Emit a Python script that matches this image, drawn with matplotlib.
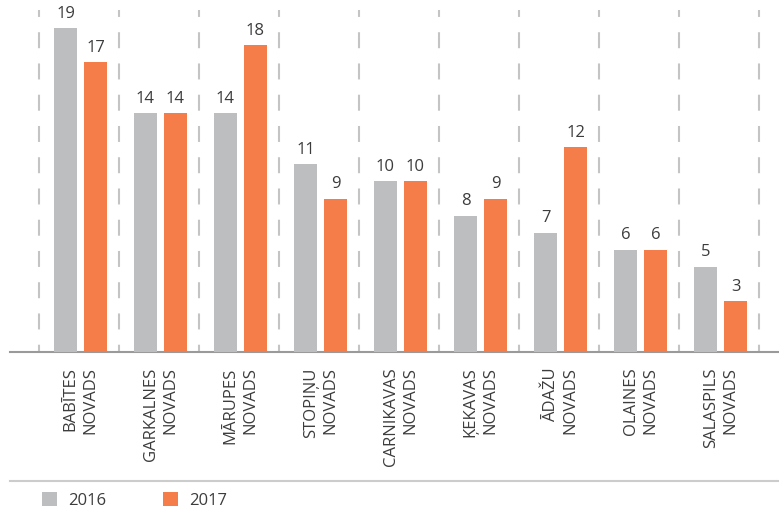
import matplotlib
matplotlib.use("Agg")
import matplotlib.pyplot as plt
import matplotlib.transforms as mtransforms
import numpy as np
from matplotlib.lines import Line2D

# Data
categories = ["BABĪTES\nNOVADS", "GARKALNES\nNOVADS", "MĀRUPES\nNOVADS", "STOPIŅU\nNOVADS",
              "CARNIKAVAS\nNOVADS", "ĶEKAVAS\nNOVADS", "ĀDAŽU\nNOVADS", "OLAINES\nNOVADS",
              "SALASPILS\nNOVADS"]
values_2016 = [19, 14, 14, 11, 10, 8, 7, 6, 5]
values_2017 = [17, 14, 18, 9, 10, 9, 12, 6, 3]
series_labels = ["2016", "2017"]

GRAY = "#BDBEC0"
ORANGE = "#F47D4A"
TEXT = "#3C3C3C"

plt.rcParams["font.family"] = ["Open Sans", "DejaVu Sans"]
plt.rcParams["lines.scale_dashes"] = False

W, H = 779, 515
fig = plt.figure(figsize=(W / 100, H / 100), dpi=100)

# axes spans from x=10 px to the right edge, baseline at y=352 px
ax = fig.add_axes([10 / W, 1 - 352 / H, (W - 10) / W, 352 / H])

x = np.arange(len(categories))
bw = 23 / 80
off_g = -15 / 80
off_o = 15 / 80

b1 = ax.bar(x + off_g, values_2016, width=bw, color=GRAY, label=series_labels[0], zorder=3)
b2 = ax.bar(x + off_o, values_2017, width=bw, color=ORANGE, label=series_labels[1], zorder=3)

for bars, vals in ((b1, values_2016), (b2, values_2017)):
    for rect, v in zip(bars, vals):
        ax.annotate(str(v), (rect.get_x() + rect.get_width() / 2, v),
                    xytext=(0, 4.5), textcoords="offset points",
                    ha="center", va="bottom", fontsize=12, color=TEXT)

# dashed separators between groups
sep_trans = mtransforms.blended_transform_factory(ax.transData, ax.transAxes)
for i in range(len(categories) + 1):
    xs = i - 0.52
    ax.plot([xs, xs], [1 - 10 / 352, 0], transform=sep_trans, color="#C4C4C4",
            lw=1.5, linestyle=(6.5, (11.5, 11.0)), zorder=1, clip_on=False,
            solid_capstyle="butt", dash_capstyle="butt")

ax.set_xlim(-0.881, 8.731)
ax.set_ylim(0, 20.64)

for s in ("top", "right", "left"):
    ax.spines[s].set_visible(False)
ax.spines["bottom"].set_color("#9A9A9A")
ax.spines["bottom"].set_linewidth(1.5)
ax.set_yticks([])

ax.set_xticks(x)
ax.set_xticklabels(categories, rotation=90, fontsize=12, color=TEXT,
                   multialignment="right", linespacing=1.3)
ax.tick_params(axis="x", length=0, pad=11)

# horizontal rule above legend
fig.add_artist(Line2D([10 / W, 1], [1 - 481 / H, 1 - 481 / H], transform=fig.transFigure,
                      color="#CCCCCC", lw=1.5))

leg = fig.legend(handles=[b1, b2], labels=series_labels, loc="center left",
                 bbox_to_anchor=(42 / W, 1 - 500.5 / H), ncol=2, frameon=False,
                 fontsize=12, handlelength=0.9, handleheight=0.9, handletextpad=0.66,
                 columnspacing=3.4, borderpad=0, borderaxespad=0)
for t in leg.get_texts():
    t.set_color(TEXT)

fig.savefig("out.png", dpi=100)
